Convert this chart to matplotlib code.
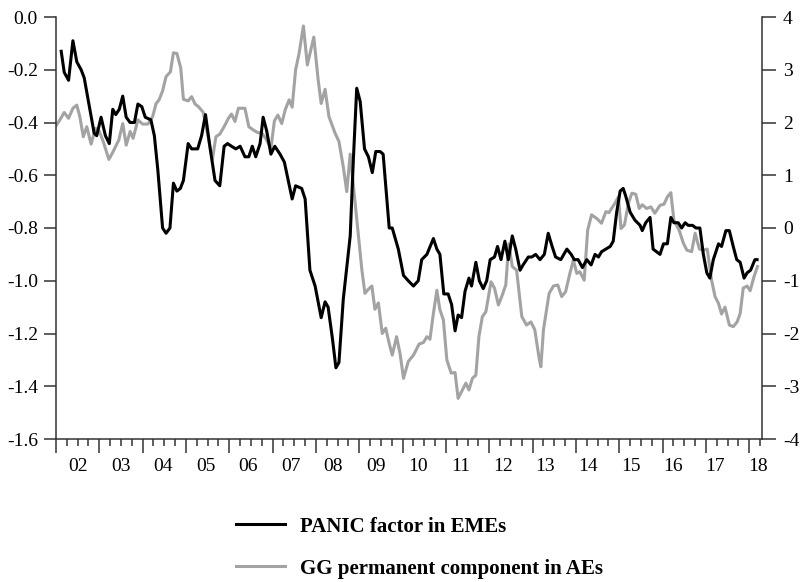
import matplotlib
matplotlib.use("Agg")
import matplotlib.pyplot as plt
import matplotlib.transforms as mtransforms
import numpy as np

plt.rcParams['font.family'] = ['Liberation Serif', 'DejaVu Serif']

# PANIC factor in EMEs (left axis), decimal years
panic_t = [2002.12, 2002.19, 2002.29, 2002.39, 2002.48, 2002.58, 2002.65, 2002.77, 2002.88, 2002.94,
           2003.04, 2003.14, 2003.23, 2003.31, 2003.38, 2003.46, 2003.54, 2003.62, 2003.71, 2003.81,
           2003.89, 2003.98, 2004.06, 2004.19, 2004.27, 2004.35, 2004.46, 2004.54, 2004.63, 2004.71,
           2004.79, 2004.87, 2004.94, 2005.05, 2005.13, 2005.27, 2005.36, 2005.45, 2005.55, 2005.67,
           2005.78, 2005.88, 2005.96, 2006.05, 2006.15, 2006.25, 2006.36, 2006.45, 2006.53, 2006.61,
           2006.71, 2006.78, 2006.86, 2006.96, 2007.05, 2007.17, 2007.27, 2007.36, 2007.45, 2007.53,
           2007.67, 2007.75, 2007.86, 2007.98, 2008.12, 2008.21, 2008.28, 2008.38, 2008.46, 2008.53,
           2008.63, 2008.79, 2008.86, 2008.94, 2009.02, 2009.12, 2009.21, 2009.30, 2009.38, 2009.48,
           2009.55, 2009.69, 2009.76, 2009.90, 2010.02, 2010.13, 2010.25, 2010.36, 2010.44, 2010.56,
           2010.71, 2010.79, 2010.86, 2010.95, 2011.05, 2011.13, 2011.21, 2011.28, 2011.36, 2011.44,
           2011.53, 2011.59, 2011.69, 2011.77, 2011.86, 2011.94, 2012.02, 2012.12, 2012.19, 2012.27,
           2012.36, 2012.44, 2012.53, 2012.61, 2012.71, 2012.78, 2012.90, 2012.98, 2013.07, 2013.17,
           2013.27, 2013.36, 2013.45, 2013.53, 2013.65, 2013.79, 2013.89, 2013.96, 2014.05, 2014.15,
           2014.25, 2014.35, 2014.44, 2014.52, 2014.59, 2014.69, 2014.79, 2014.86, 2014.94, 2015.02,
           2015.09, 2015.15, 2015.25, 2015.36, 2015.48, 2015.53, 2015.61, 2015.71, 2015.78, 2015.94,
           2016.02, 2016.11, 2016.19, 2016.26, 2016.36, 2016.44, 2016.52, 2016.59, 2016.69, 2016.77,
           2016.86, 2016.94, 2017.02, 2017.09, 2017.17, 2017.29, 2017.36, 2017.46, 2017.54, 2017.63,
           2017.71, 2017.79, 2017.88, 2017.95, 2018.03, 2018.13, 2018.18]
panic_v = [-0.13, -0.21, -0.24, -0.09, -0.17, -0.20, -0.23, -0.34, -0.44, -0.45,
           -0.38, -0.45, -0.48, -0.35, -0.37, -0.35, -0.30, -0.38, -0.40, -0.40,
           -0.33, -0.34, -0.38, -0.39, -0.45, -0.58, -0.80, -0.82, -0.80, -0.63,
           -0.66, -0.65, -0.62, -0.48, -0.50, -0.50, -0.45, -0.37, -0.49, -0.62,
           -0.64, -0.49, -0.48, -0.49, -0.50, -0.49, -0.53, -0.53, -0.49, -0.53,
           -0.48, -0.38, -0.43, -0.52, -0.49, -0.52, -0.55, -0.62, -0.69, -0.64,
           -0.65, -0.69, -0.96, -1.02, -1.14, -1.08, -1.10, -1.22, -1.33, -1.31,
           -1.07, -0.83, -0.55, -0.27, -0.32, -0.50, -0.53, -0.59, -0.51, -0.51,
           -0.52, -0.80, -0.80, -0.88, -0.98, -1.00, -1.02, -1.00, -0.92, -0.90,
           -0.84, -0.88, -0.90, -1.05, -1.05, -1.09, -1.19, -1.13, -1.14, -1.04,
           -0.99, -1.02, -0.93, -1.00, -1.03, -1.00, -0.92, -0.91, -0.87, -0.92,
           -0.85, -0.92, -0.83, -0.88, -0.96, -0.94, -0.91, -0.91, -0.90, -0.92,
           -0.90, -0.82, -0.87, -0.91, -0.92, -0.88, -0.90, -0.92, -0.92, -0.95,
           -0.92, -0.94, -0.90, -0.91, -0.89, -0.88, -0.87, -0.85, -0.74, -0.66,
           -0.65, -0.68, -0.74, -0.77, -0.79, -0.81, -0.78, -0.76, -0.88, -0.90,
           -0.86, -0.86, -0.76, -0.78, -0.78, -0.80, -0.78, -0.79, -0.79, -0.80,
           -0.80, -0.90, -0.97, -0.99, -0.92, -0.86, -0.87, -0.81, -0.81, -0.87,
           -0.92, -0.93, -0.99, -0.97, -0.96, -0.92, -0.92]

# GG permanent component in AEs (right axis), decimal years
gg_t = [2002.01, 2002.09, 2002.19, 2002.29, 2002.39, 2002.48, 2002.55, 2002.63, 2002.71, 2002.81,
        2002.91, 2003.00, 2003.09, 2003.22, 2003.32, 2003.45, 2003.54, 2003.62, 2003.71, 2003.78,
        2003.89, 2004.00, 2004.12, 2004.23, 2004.31, 2004.38, 2004.46, 2004.54, 2004.64, 2004.71,
        2004.79, 2004.88, 2004.94, 2005.05, 2005.13, 2005.21, 2005.30, 2005.40, 2005.51, 2005.61,
        2005.69, 2005.78, 2005.88, 2005.98, 2006.05, 2006.13, 2006.21, 2006.36, 2006.45, 2006.55,
        2006.65, 2006.75, 2006.84, 2006.96, 2007.04, 2007.12, 2007.21, 2007.29, 2007.38, 2007.45,
        2007.53, 2007.61, 2007.71, 2007.80, 2007.95, 2008.05, 2008.12, 2008.21, 2008.30, 2008.44,
        2008.53, 2008.63, 2008.71, 2008.79, 2008.88, 2008.98, 2009.06, 2009.13, 2009.21, 2009.29,
        2009.36, 2009.44, 2009.53, 2009.61, 2009.69, 2009.76, 2009.86, 2009.94, 2010.02, 2010.13,
        2010.25, 2010.38, 2010.48, 2010.56, 2010.63, 2010.71, 2010.79, 2010.86, 2010.94, 2011.02,
        2011.12, 2011.21, 2011.28, 2011.36, 2011.46, 2011.53, 2011.61, 2011.69, 2011.76, 2011.84,
        2011.92, 2012.04, 2012.12, 2012.21, 2012.30, 2012.38, 2012.45, 2012.53, 2012.63, 2012.75,
        2012.86, 2012.96, 2013.05, 2013.15, 2013.19, 2013.25, 2013.38, 2013.48, 2013.58, 2013.67,
        2013.76, 2013.86, 2013.94, 2014.02, 2014.09, 2014.19, 2014.27, 2014.36, 2014.48, 2014.59,
        2014.69, 2014.76, 2014.90, 2014.98, 2015.04, 2015.12, 2015.21, 2015.29, 2015.38, 2015.46,
        2015.53, 2015.63, 2015.73, 2015.82, 2015.94, 2016.03, 2016.11, 2016.19, 2016.26, 2016.38,
        2016.48, 2016.56, 2016.67, 2016.75, 2016.85, 2016.94, 2017.03, 2017.13, 2017.21, 2017.29,
        2017.36, 2017.44, 2017.54, 2017.63, 2017.72, 2017.79, 2017.86, 2017.95, 2018.02, 2018.11,
        2018.19]
gg_v = [1.95, 2.05, 2.19, 2.08, 2.27, 2.33, 2.11, 1.73, 1.92, 1.59,
        1.89, 1.83, 1.64, 1.30, 1.45, 1.67, 1.98, 1.57, 1.83, 1.70,
        2.05, 1.97, 1.97, 2.11, 2.36, 2.43, 2.60, 2.87, 2.96, 3.32,
        3.31, 3.03, 2.44, 2.41, 2.49, 2.35, 2.29, 2.19, 1.73, 1.30,
        1.73, 1.78, 1.92, 2.08, 2.16, 2.02, 2.27, 2.27, 1.92, 1.86,
        1.81, 1.80, 1.70, 1.51, 2.03, 2.14, 1.98, 2.24, 2.43, 2.29,
        3.00, 3.31, 3.83, 3.09, 3.62, 2.81, 2.36, 2.63, 2.11, 1.80,
        1.64, 1.16, 0.69, 1.40, 0.66, -0.17, -0.80, -1.24, -1.16, -1.10,
        -1.54, -1.42, -2.00, -1.90, -2.19, -2.41, -2.06, -2.38, -2.85, -2.53,
        -2.41, -2.20, -2.17, -2.06, -2.11, -1.62, -1.18, -1.55, -1.74, -2.50,
        -2.75, -2.74, -3.23, -3.10, -2.94, -3.07, -2.85, -2.79, -2.06, -1.68,
        -1.59, -1.02, -1.14, -1.46, -1.27, -1.08, -0.30, -0.73, -0.80, -1.68,
        -1.84, -1.78, -1.93, -2.47, -2.63, -1.93, -1.24, -1.10, -1.08, -1.30,
        -1.21, -0.86, -0.61, -0.86, -0.83, -0.99, -0.04, 0.25, 0.18, 0.09,
        0.31, 0.29, 0.47, 0.59, -0.01, 0.06, 0.47, 0.66, 0.64, 0.37,
        0.44, 0.37, 0.40, 0.28, 0.43, 0.45, 0.59, 0.67, 0.15, -0.04,
        -0.29, -0.42, -0.45, -0.10, -0.40, -0.42, -0.40, -0.99, -1.30, -1.43,
        -1.63, -1.50, -1.84, -1.87, -1.78, -1.62, -1.14, -1.10, -1.19, -0.92,
        -0.73]

left_ticks = [0.0, -0.2, -0.4, -0.6, -0.8, -1.0, -1.2, -1.4, -1.6]
left_labels = ["0.0", "-0.2", "-0.4", "-0.6", "-0.8", "-1.0", "-1.2", "-1.4", "-1.6"]
right_ticks = [4, 3, 2, 1, 0, -1, -2, -3, -4]
right_labels = ["4", "3", "2", "1", "0", "-1", "-2", "-3", "-4"]
year_labels = ["02", "03", "04", "05", "06", "07", "08", "09", "10",
               "11", "12", "13", "14", "15", "16", "17", "18"]
series_names = ["PANIC factor in EMEs", "GG permanent component in AEs"]

BLACK = "#000000"
GREY = "#a3a3a3"
SPINE = "#333333"

fig = plt.figure(figsize=(8, 5.82), dpi=100)
ax = fig.add_axes([56 / 800, 1 - 439 / 582, 706 / 800, 422 / 582])
ax2 = ax.twinx()

l2, = ax2.plot(gg_t, gg_v, color=GREY, lw=2.2, solid_joinstyle='round')
l1, = ax.plot(panic_t, panic_v, color=BLACK, lw=2.2, solid_joinstyle='round')
ax.set_zorder(ax2.get_zorder() + 1)
ax.patch.set_visible(False)

ax.set_xlim(2002.0, 2002.0 + 706 / 43.33)
ax.set_ylim(-1.6, 0.0)
ax2.set_ylim(-4, 4)

ax.set_yticks(left_ticks)
ax.set_yticklabels(left_labels)
ax2.set_yticks(right_ticks)
ax2.set_yticklabels(right_labels)

ax.set_xticks(np.arange(2002, 2019))
ax.set_xticklabels([])
ax.set_xticks(np.arange(2002, 2018.3, 0.25), minor=True)

for a in (ax, ax2):
    for s in a.spines.values():
        s.set_color(SPINE)
        s.set_linewidth(1.1)
    a.spines['top'].set_visible(False)

ax.spines['right'].set_visible(False)
ax2.spines['left'].set_visible(False)
ax2.spines['bottom'].set_visible(False)

ax.tick_params(axis='y', which='major', direction='out', length=9, width=1.1,
               color=SPINE, labelsize=14, pad=4)
ax2.tick_params(axis='y', which='major', direction='out', length=10, width=1.1,
                color=SPINE, labelsize=14, pad=5)
ax.tick_params(axis='x', which='major', direction='out', length=10, width=1.1, color=SPINE)
ax.tick_params(axis='x', which='minor', direction='out', length=5, width=1.1, color=SPINE)

trans = mtransforms.blended_transform_factory(ax.transData, ax.transAxes)
label_pos = np.linspace(2002.51, 2018.2, len(year_labels))
for xp, lab in zip(label_pos, year_labels):
    ax.text(xp, -0.045, lab, transform=trans, ha='center', va='top', fontsize=14)

fig.legend([l1, l2], series_names, loc='upper left', bbox_to_anchor=(217 / 800, 1 - 498 / 582),
           frameon=False, handlelength=2.35, handletextpad=0.75, labelspacing=1.05,
           prop={'family': ['Liberation Serif'], 'weight': 'bold', 'size': 15})

fig.savefig("out.png", dpi=100)
